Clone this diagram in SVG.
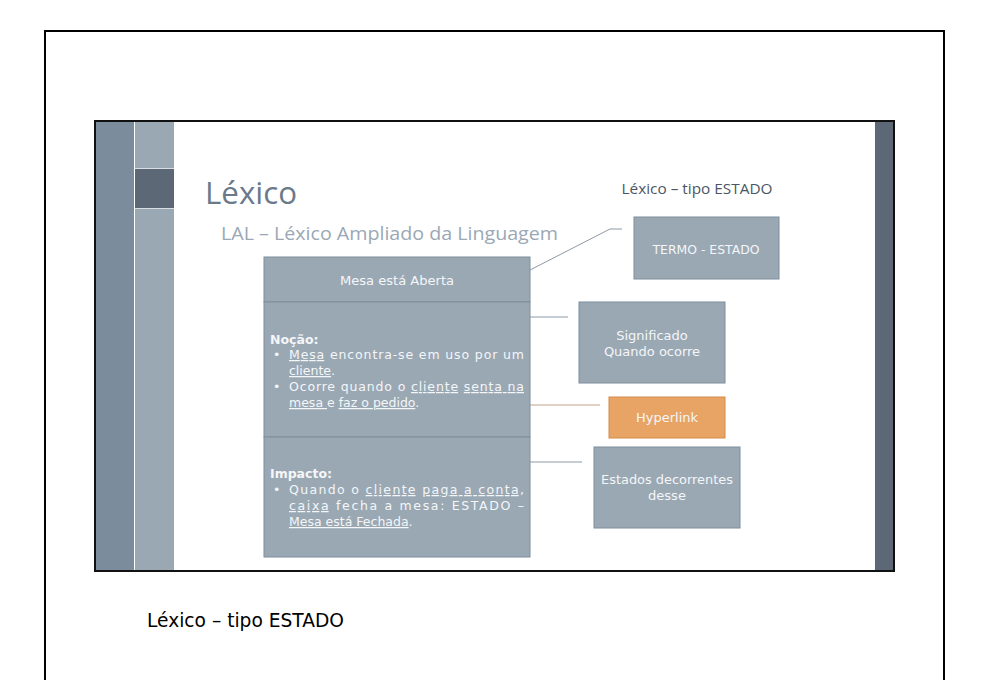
<svg xmlns="http://www.w3.org/2000/svg" width="988" height="680" viewBox="0 0 988 680">
<style>
.box{fill:#9aa8b4;stroke:#7f8e9b;stroke-width:1}
.bt{font-family:"DejaVu Sans","Open Sans",sans-serif;font-size:13px;fill:#f4f6f8}
.body{font-family:"DejaVu Sans","Open Sans",sans-serif;font-size:12.5px;fill:#f4f6f8}
.u{text-decoration:underline}
.conn{stroke:#8c99a6;stroke-width:1;fill:none}
</style>
<rect x="0" y="0" width="988" height="680" fill="#ffffff"/>
<rect x="45" y="31" width="899" height="700" fill="none" stroke="#000" stroke-width="2"/>
<g id="slide">
<rect x="95" y="121" width="799" height="450" fill="#ffffff" stroke="#111" stroke-width="2"/>
<rect x="96" y="122" width="38" height="448" fill="#7b8c9c"/>
<rect x="135" y="122" width="39" height="448" fill="#9aa8b4"/>
<rect x="135" y="169" width="39" height="39" fill="#5c6875"/>
<line x1="135" y1="168.5" x2="174" y2="168.5" stroke="#d8dde2" stroke-width="1"/>
<line x1="135" y1="208.5" x2="174" y2="208.5" stroke="#d8dde2" stroke-width="1"/>
<rect x="875" y="122" width="18" height="448" fill="#5c6875"/>
<text x="205" y="204" font-family="'Open Sans','DejaVu Sans',sans-serif" font-size="31" fill="#6b7a8a" textLength="92" lengthAdjust="spacingAndGlyphs">Léxico</text>
<text x="221" y="240" font-family="'Open Sans','DejaVu Sans',sans-serif" font-size="19" fill="#9ba8b5" textLength="337" lengthAdjust="spacingAndGlyphs">LAL – Léxico Ampliado da Linguagem</text>
<text x="697" y="194" text-anchor="middle" font-family="'Open Sans','DejaVu Sans',sans-serif" font-size="14" fill="#4b5663" textLength="151" lengthAdjust="spacingAndGlyphs">Léxico – tipo ESTADO</text>
</g>
<g id="connectors">
<polyline class="conn" points="530,270 610,229 622,229"/>
<line class="conn" x1="530" y1="317" x2="568" y2="317"/>
<line x1="432" y1="405" x2="600" y2="405" stroke="#c3a58b" stroke-width="1"/>
<line class="conn" x1="530" y1="462" x2="582" y2="462"/>
</g>
<g id="termo-row">
<rect class="box" x="264" y="257" width="266" height="45"/>
<text class="bt" x="397" y="285" text-anchor="middle" textLength="114" lengthAdjust="spacingAndGlyphs">Mesa está Aberta</text>
</g>
<g id="nocao-row">
<rect class="box" x="264" y="302" width="266" height="135"/>
<text class="body" x="270" y="344" font-weight="bold">Noção:</text>
<text class="body" x="273" y="359">•</text>
<text class="body" x="289" y="359" textLength="235" lengthAdjust="spacing"><tspan class="u">Mesa</tspan> encontra-se em uso por um</text>
<text class="body" x="289" y="375"><tspan class="u">cliente</tspan>.</text>
<text class="body" x="273" y="391">•</text>
<text class="body" x="289" y="391" textLength="235" lengthAdjust="spacing">Ocorre quando o <tspan class="u">cliente</tspan> <tspan class="u">senta na</tspan></text>
<text class="body" x="289" y="407"><tspan class="u">mesa </tspan>e <tspan class="u">faz o pedido</tspan>.</text>
</g>
<g id="impacto-row">
<rect class="box" x="264" y="437" width="266" height="120"/>
<text class="body" x="270" y="478" font-weight="bold">Impacto:</text>
<text class="body" x="273" y="494">•</text>
<text class="body" x="289" y="494" textLength="235" lengthAdjust="spacing">Quando o <tspan class="u">cliente</tspan> <tspan class="u">paga a conta</tspan>,</text>
<text class="body" x="289" y="510" textLength="235" lengthAdjust="spacing"><tspan class="u">caixa</tspan> fecha a mesa: ESTADO –</text>
<text class="body" x="289" y="526"><tspan class="u">Mesa está Fechada</tspan>.</text>
</g>
<g id="termo-estado">
<rect class="box" x="634" y="217" width="145" height="62"/>
<text class="bt" x="706" y="254" text-anchor="middle" textLength="107" lengthAdjust="spacingAndGlyphs">TERMO - ESTADO</text>
</g>
<g id="significado">
<rect class="box" x="579" y="302" width="146" height="81"/>
<text class="bt" x="652" y="340" text-anchor="middle">Significado</text>
<text class="bt" x="652" y="356" text-anchor="middle">Quando ocorre</text>
</g>
<g id="hyperlink">
<rect x="609" y="397" width="116" height="41" fill="#e8a464" stroke="#d38c4d" stroke-width="1"/>
<text class="bt" x="667" y="422" text-anchor="middle">Hyperlink</text>
</g>
<g id="estados">
<rect class="box" x="594" y="447" width="146" height="81"/>
<text class="bt" x="667" y="484" text-anchor="middle" textLength="132" lengthAdjust="spacingAndGlyphs">Estados decorrentes</text>
<text class="bt" x="667" y="500" text-anchor="middle">desse</text>
</g>
<text x="147" y="627" font-family="'DejaVu Sans','Liberation Sans',sans-serif" font-size="19" fill="#000" textLength="197" lengthAdjust="spacingAndGlyphs">Léxico – tipo ESTADO</text>
</svg>
